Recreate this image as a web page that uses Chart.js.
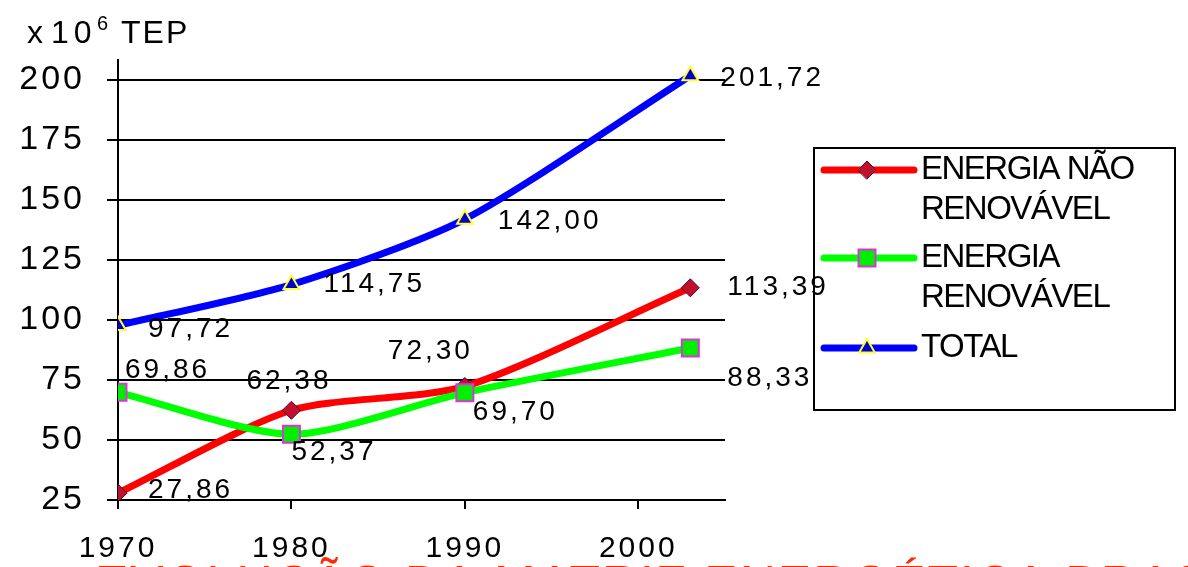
<!DOCTYPE html>
<html>
<head>
<meta charset="utf-8">
<script src="https://cdn.jsdelivr.net/npm/chart.js@4"></script>
<style>
  html, body { margin: 0; padding: 0; background: #fff; overflow: hidden; }
  #wrap { width: 1188px; height: 567px; }
</style>
</head>
<body>
<div id="wrap"><canvas id="matrizChart" width="1188" height="567"></canvas></div>
<script>
// Data
const years = [1970, 1980, 1990, 2003];
const naoRenovavel = [27.86, 62.38, 72.30, 113.39];
const renovavel = [69.86, 52.37, 69.70, 88.33];
const total = [97.72, 114.75, 142.00, 201.72];
const xTicks = [1970, 1980, 1990, 2000];
const yTicks = [25, 50, 75, 100, 125, 150, 175, 200];
const seriesNames = ['ENERGIA NÃO RENOVÁVEL', 'ENERGIA RENOVÁVEL', 'TOTAL'];

// label offsets (px) from each point, per series
const labelOffsets = [
  [[30, -3], [-45, -29], [-77, -35], [37, -1]],
  [[7, -22], [0, 18], [8, 20], [37, 30]],
  [[30, 4], [32, 0], [33, 2], [30, 2]]
];

// legend text lines
const legendLines = [['ENERGIA NÃO', 'RENOVÁVEL'], ['ENERGIA', 'RENOVÁVEL'], ['TOTAL']];

function toPoints(values) {
  return years.map((y, i) => ({ x: y, y: values[i] }));
}

function fmt(v) {
  return v.toFixed(2).replace('.', ',');
}

// draws value labels, y unit, legend box and the red caption
const extrasPlugin = {
  id: 'extras',
  beforeDraw(chart) {
    chart.ctx.letterSpacing = '3px';
  },
  afterDatasetsDraw(chart) {
    const ctx = chart.ctx;
    ctx.save();
    ctx.font = '28px "Liberation Sans", Arial, sans-serif';
    ctx.letterSpacing = '3px';
    ctx.fillStyle = '#000';
    ctx.textBaseline = 'middle';
    ctx.textAlign = 'left';
    chart.data.datasets.forEach((ds, di) => {
      const meta = chart.getDatasetMeta(di);
      meta.data.forEach((pt, i) => {
        const off = labelOffsets[di][i];
        ctx.fillText(fmt(ds.data[i].y), pt.x + off[0], pt.y + off[1]);
      });
    });
    ctx.restore();
  },
  afterDraw(chart) {
    const ctx = chart.ctx;
    ctx.save();
    ctx.fillStyle = '#000';
    ctx.textBaseline = 'alphabetic';
    ctx.textAlign = 'left';

    // unit label
    ctx.font = '32px "Liberation Sans", Arial, sans-serif';
    ctx.letterSpacing = '0px';
    ctx.fillText('x', 27, 43);
    ctx.letterSpacing = '5px';
    ctx.fillText('10', 51, 43);
    ctx.font = '20px "Liberation Sans", Arial, sans-serif';
    ctx.letterSpacing = '0px';
    ctx.fillText('6', 97, 30);
    ctx.font = '32px "Liberation Sans", Arial, sans-serif';
    ctx.letterSpacing = '2px';
    ctx.fillText('TEP', 121, 43);

    // legend box
    ctx.lineWidth = 2;
    ctx.strokeStyle = '#000';
    ctx.strokeRect(814, 148, 361, 262);
    const rowY = [170, 258, 348];
    const lineGap = 40;
    chart.data.datasets.forEach((ds, di) => {
      const y = rowY[di];
      ctx.lineWidth = ds.borderWidth;
      ctx.strokeStyle = ds.borderColor;
      ctx.lineCap = 'round';
      ctx.beginPath();
      ctx.moveTo(824, y);
      ctx.lineTo(914, y);
      ctx.stroke();
      ctx.fillStyle = ds.pointBackgroundColor;
      ctx.strokeStyle = ds.pointBorderColor;
      ctx.lineWidth = ds.pointBorderWidth;
      Chart.helpers.drawPoint(ctx, {
        pointStyle: ds.pointStyle,
        radius: ds.pointRadius,
        rotation: 0,
        borderWidth: ds.pointBorderWidth
      }, 867, y);
      ctx.fillStyle = '#000';
      ctx.font = '33px "Liberation Sans", Arial, sans-serif';
      ctx.letterSpacing = '-1.5px';
      ctx.textBaseline = 'middle';
      legendLines[di].forEach((t, li) => {
        ctx.fillText(t, 921, y + li * lineGap);
      });
    });

    // red caption, cut by the bottom edge
    ctx.fillStyle = '#ff2a00';
    ctx.font = '50px "Liberation Sans", Arial, sans-serif';
    ctx.letterSpacing = '2px';
    ctx.textBaseline = 'alphabetic';
    ctx.fillText('EVOLUÇÃO DA MATRIZ ENERGÉTICA BRASILEIRA', 95, 601);
    ctx.restore();
  }
};

const ctx = document.getElementById('matrizChart').getContext('2d');
new Chart(ctx, {
  type: 'line',
  data: {
    datasets: [
      {
        label: seriesNames[0],
        data: toPoints(naoRenovavel),
        borderColor: '#ff0000',
        borderWidth: 7,
        tension: 0.25,
        pointStyle: 'rectRot',
        pointRadius: 9,
        pointBackgroundColor: '#c0102e',
        pointBorderColor: '#50002a',
        pointBorderWidth: 1,
        order: 2
      },
      {
        label: seriesNames[1],
        data: toPoints(renovavel),
        borderColor: '#00ff00',
        borderWidth: 7,
        tension: 0.25,
        pointStyle: 'rect',
        pointRadius: 12,
        pointBackgroundColor: '#00ee00',
        pointBorderColor: '#dd33dd',
        pointBorderWidth: 2,
        order: 1
      },
      {
        label: seriesNames[2],
        data: toPoints(total),
        borderColor: '#0000ff',
        borderWidth: 7,
        tension: 0.25,
        pointStyle: 'triangle',
        pointRadius: 9,
        pointBackgroundColor: '#0000cc',
        pointBorderColor: '#ffff33',
        pointBorderWidth: 2,
        order: 0
      }
    ]
  },
  options: {
    responsive: false,
    animation: false,
    layout: { padding: { top: 60, right: 463, left: 0, bottom: 0 } },
    plugins: {
      legend: { display: false },
      tooltip: { enabled: false }
    },
    scales: {
      x: {
        type: 'linear',
        min: 1970,
        max: 2005,
        afterBuildTicks(scale) {
          scale.ticks = xTicks.map(v => ({ value: v }));
        },
        afterFit(scale) {
          scale.height = 67;
        },
        grid: {
          drawOnChartArea: false,
          drawTicks: true,
          tickLength: 9,
          color: '#000',
          lineWidth: 2
        },
        border: { color: '#000', width: 2 },
        ticks: {
          color: '#000',
          padding: 22,
          maxRotation: 0,
          font: { size: 30, family: '"Liberation Sans", Arial, sans-serif' },
          callback: v => String(v)
        }
      },
      y: {
        min: 25,
        max: 208.3,
        afterBuildTicks(scale) {
          scale.ticks = yTicks.map(v => ({ value: v }));
        },
        afterFit(scale) {
          scale.width = 118;
        },
        grid: {
          color: '#000',
          lineWidth: 2,
          tickLength: 11
        },
        border: { color: '#000', width: 2 },
        ticks: {
          color: '#000',
          padding: 22,
          font: { size: 34, family: '"Liberation Sans", Arial, sans-serif' },
          callback: v => String(v)
        }
      }
    }
  },
  plugins: [extrasPlugin]
});
</script>
</body>
</html>
